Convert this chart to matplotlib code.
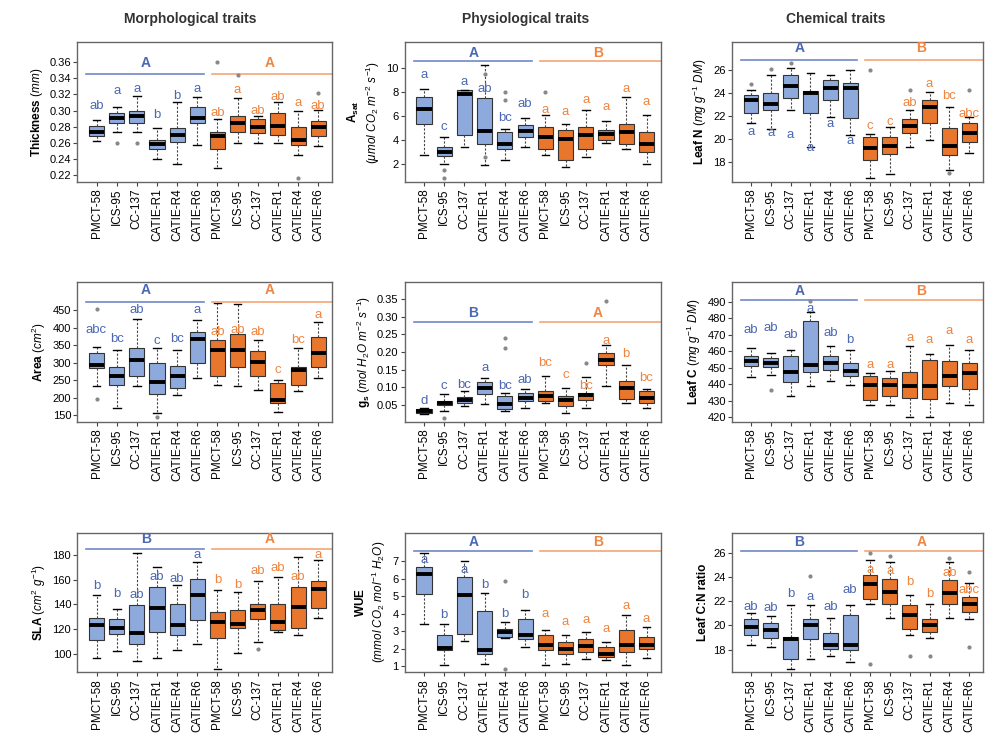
import matplotlib
matplotlib.use("Agg")
import matplotlib.pyplot as plt
import numpy as np

plt.rcParams["font.family"] = ["Liberation Sans", "DejaVu Sans"]
plt.rcParams["mathtext.fontset"] = "custom"
plt.rcParams["mathtext.rm"] = "Liberation Sans"
plt.rcParams["mathtext.it"] = "Liberation Sans:italic"
plt.rcParams["mathtext.bf"] = "Liberation Sans:bold"

cultivars = ["PMCT-58", "ICS-95", "CC-137", "CATIE-R1", "CATIE-R4", "CATIE-R6"]
tick_labels = cultivars + cultivars

# box stats per cultivar: (whisker low, q1, median, q3, whisker high)
thickness_stats = [
    (0.262, 0.268, 0.274, 0.2805, 0.288), (0.273, 0.284, 0.291, 0.297, 0.304),
    (0.273, 0.284, 0.293, 0.299, 0.318), (0.240, 0.2525, 0.259, 0.264, 0.278),
    (0.234, 0.261, 0.270, 0.279, 0.310), (0.258, 0.285, 0.291, 0.304, 0.317),
    (0.229, 0.252, 0.268, 0.274, 0.289), (0.260, 0.274, 0.284, 0.293, 0.316),
    (0.260, 0.272, 0.280, 0.289, 0.293), (0.260, 0.270, 0.281, 0.297, 0.310),
    (0.245, 0.258, 0.264, 0.280, 0.299), (0.256, 0.268, 0.280, 0.287, 0.301),
]
thickness_letters = ["ab", "a", "a", "b", "b", "a", "ab", "a", "ab", "ab", "a", "ab"]
thickness_letter_y = [0.306, 0.324, 0.326, 0.294, 0.318, 0.327, 0.297, 0.325, 0.300, 0.317, 0.309, 0.305]
thickness_outliers = [(2, 0.260), (3, 0.260), (7, 0.360), (8, 0.344), (11, 0.217), (12, 0.322)]
thickness_groups = ["A", "A"]
thickness_group_y = (0.3456, 0.359)

asat_stats = [
    (2.76, 5.29, 6.52, 7.58, 8.2), (2.0, 2.62, 2.98, 3.40, 4.23),
    (3.4, 4.37, 7.8, 8.15, 8.15), (1.87, 3.68, 4.73, 7.44, 10.2),
    (2.34, 3.2, 3.62, 4.65, 4.9), (3.4, 4.23, 4.7, 5.2, 5.77),
    (2.7, 3.26, 4.23, 5.07, 6.04), (1.73, 2.28, 4.1, 4.79, 5.35),
    (2.56, 3.26, 4.37, 5.07, 6.46), (3.73, 4.01, 4.51, 4.85, 5.6),
    (3.26, 3.68, 4.65, 5.35, 7.58), (2.0, 2.98, 3.62, 4.65, 6.04),
]
asat_letters = ["a", "c", "a", "ab", "bc", "ab", "a", "a", "a", "a", "a", "a"]
asat_letter_y = [9.4, 5.07, 8.8, 8.2, 5.77, 7.0, 6.46, 6.3, 7.3, 6.7, 8.19, 7.16]
asat_outliers = [(2, 1.5), (2, 0.8), (4, 9.5), (4, 2.6), (5, 8.0), (5, 7.3), (7, 8.0)]
asat_groups = ["A", "B"]
asat_group_y = (10.56, 11.2)

leafn_stats = [
    (21.4, 22.22, 23.38, 23.82, 24.26), (20.9, 22.51, 23.0, 23.97, 25.56),
    (22.5, 23.53, 24.6, 25.56, 26.15), (19.3, 22.22, 24.0, 24.2, 25.7),
    (21.9, 23.38, 24.4, 25.13, 25.6), (20.3, 21.78, 24.4, 24.84, 26.0),
    (16.55, 18.15, 19.17, 20.19, 20.4), (16.9, 18.67, 19.37, 20.19, 21.0),
    (19.3, 20.48, 21.1, 21.73, 22.5), (19.9, 21.4, 22.74, 23.38, 24.1),
    (17.3, 18.59, 19.4, 20.91, 22.8), (18.73, 19.75, 20.48, 21.35, 21.93),
]
leafn_letters = ["a", "a", "a", "a", "a", "a", "c", "c", "ab", "a", "bc", "abc"]
leafn_letter_y = [20.6, 20.5, 20.3, 19.2, 21.3, 19.8, 21.1, 21.5, 23.1, 24.8, 23.7, 22.2]
leafn_outliers = [(1, 24.8), (2, 26.1), (3, 26.6), (7, 26.0), (9, 24.3), (11, 17.0), (12, 24.3)]
leafn_groups = ["A", "B"]
leafn_group_y = (26.87, 27.9)

area_stats = [
    (232, 284, 292, 327, 346), (171, 237, 261, 289, 336),
    (232, 261, 308, 341, 426), (156, 211, 246, 298, 341),
    (207, 227, 262, 291, 336), (256, 298, 367, 388, 422),
    (237, 262, 336, 365, 471), (232, 289, 336, 382, 469),
    (223, 261, 303, 332, 365), (159, 185, 194, 242, 250),
    (218, 237, 280, 289, 341), (256, 289, 327, 374, 417),
]
area_letters = ["abc", "bc", "ab", "c", "bc", "a", "ab", "ab", "ab", "c", "bc", "a"]
area_letter_y = [393, 367, 450, 363, 367, 452, 388, 393, 388, 280, 365, 436]
area_outliers = [(1, 196), (1, 455), (4, 145)]
area_groups = ["A", "A"]
area_group_y = (474, 509)

gs_stats = [
    (0.024, 0.0265, 0.033, 0.0397, 0.042), (0.033, 0.050, 0.055, 0.061, 0.080),
    (0.047, 0.055, 0.064, 0.073, 0.089), (0.052, 0.082, 0.099, 0.115, 0.127),
    (0.033, 0.040, 0.052, 0.075, 0.085), (0.043, 0.061, 0.071, 0.085, 0.094),
    (0.057, 0.061, 0.075, 0.089, 0.131), (0.028, 0.047, 0.064, 0.075, 0.099),
    (0.043, 0.064, 0.078, 0.083, 0.128), (0.103, 0.164, 0.178, 0.197, 0.220),
    (0.055, 0.066, 0.099, 0.117, 0.164), (0.043, 0.055, 0.071, 0.089, 0.094),
]
gs_letters = ["d", "c", "bc", "a", "bc", "ab", "bc", "c", "bc", "a", "b", "bc"]
gs_letter_y = [0.061, 0.103, 0.108, 0.155, 0.103, 0.122, 0.169, 0.136, 0.103, 0.230, 0.193, 0.127]
gs_outliers = [(2, 0.014), (5, 0.211), (5, 0.239), (9, 0.169), (10, 0.343)]
gs_groups = ["B", "A"]
gs_group_y = (0.286, 0.31)

leafc_stats = [
    (444.3, 451.2, 453.8, 456.8, 461.8), (445.7, 450.4, 452.8, 455.8, 458.8),
    (433.0, 441.3, 447.3, 457.2, 460.8), (438.7, 447.1, 451.8, 478.5, 484.0),
    (441.7, 448.8, 452.8, 457.2, 462.8), (439.7, 444.7, 447.7, 452.8, 460.4),
    (427.6, 430.6, 439.3, 444.7, 447.0), (427.6, 433.0, 439.3, 443.7, 447.7),
    (420.0, 431.6, 438.7, 447.1, 463.2), (420.0, 431.0, 439.1, 454.8, 458.4),
    (428.6, 439.1, 444.7, 453.8, 463.8), (427.6, 437.1, 446.7, 452.8, 460.8),
]
leafc_letters = ["ab", "ab", "ab", "a", "ab", "b", "a", "a", "a", "a", "a", "a"]
leafc_letter_y = [472.9, 473.9, 469.9, 485.5, 470.9, 466.9, 451.8, 451.8, 467.9, 467.0, 471.9, 467.0]
leafc_outliers = [(2, 436.3), (4, 490.5)]
leafc_groups = ["A", "B"]
leafc_group_y = (491, 496.5)

sla_stats = [
    (96.5, 110.8, 123.6, 129.0, 147.5), (101.9, 116.3, 120.9, 127.9, 136.6),
    (93.8, 108.1, 117.1, 139.3, 182.0), (96.5, 117.6, 137.1, 154.2, 170.5),
    (102.7, 114.9, 123.0, 140.7, 156.0), (108.1, 127.1, 148.0, 161.0, 174.6),
    (87.8, 112.7, 125.8, 133.9, 152.0), (100.8, 120.9, 124.4, 135.3, 150.2),
    (109.5, 127.9, 135.3, 140.7, 158.8), (117.6, 119.0, 125.8, 140.7, 162.4),
    (114.9, 120.9, 138.0, 154.2, 178.6), (129.0, 137.1, 152.3, 158.8, 176.0),
]
sla_letters = ["b", "b", "ab", "ab", "ab", "a", "b", "b", "ab", "ab", "ab", "a"]
sla_letter_y = [155.0, 148.8, 147.5, 162.4, 161.0, 180.0, 159.7, 155.6, 167.0, 169.7, 162.4, 180.5]
sla_outliers = [(9, 104.0)]
sla_groups = ["B", "A"]
sla_group_y = (185.4, 193)

wue_stats = [
    (3.44, 5.15, 6.26, 6.68, 7.5), (1.06, 1.91, 2.05, 2.77, 3.44),
    (2.43, 2.87, 5.1, 6.1, 7.0), (1.15, 1.72, 1.91, 4.14, 5.2),
    (2.6, 2.68, 2.96, 3.15, 3.53), (2.1, 2.58, 2.81, 3.69, 4.2),
    (1.1, 1.91, 2.24, 2.77, 3.06), (1.15, 1.72, 1.97, 2.39, 2.77),
    (1.44, 1.82, 2.16, 2.58, 2.96), (1.34, 1.53, 1.72, 2.1, 2.39),
    (1.1, 1.82, 2.2, 3.06, 3.91), (1.48, 2.0, 2.2, 2.68, 3.25),
]
wue_letters = ["a", "b", "a", "b", "b", "b", "a", "a", "a", "a", "a", "a"]
wue_letter_y = [7.06, 3.91, 6.49, 5.63, 4.0, 5.1, 4.0, 3.53, 3.63, 3.15, 4.43, 3.72]
wue_outliers = [(5, 5.9), (5, 0.87)]
wue_groups = ["A", "B"]
wue_group_y = (7.57, 8.1)

cn_stats = [
    (18.36, 19.19, 19.87, 20.56, 21.0), (18.2, 18.97, 19.6, 20.2, 20.8),
    (16.44, 17.26, 18.86, 19.05, 21.7), (17.26, 18.86, 20.0, 20.56, 21.66),
    (17.5, 18.09, 18.42, 19.38, 20.6), (17.0, 17.95, 18.36, 20.9, 21.7),
    (21.8, 22.21, 23.44, 24.13, 25.37), (20.6, 21.8, 22.76, 23.86, 25.23),
    (19.19, 19.74, 20.9, 21.66, 22.5), (18.97, 19.46, 20.0, 20.56, 21.8),
    (20.6, 21.8, 22.7, 23.78, 25.2), (20.56, 21.1, 21.8, 22.35, 23.5),
]
cn_letters = ["ab", "ab", "b", "a", "ab", "ab", "a", "a", "b", "b", "ab", "abc"]
cn_letter_y = [21.52, 21.4, 22.6, 22.35, 21.52, 22.95, 24.6, 24.5, 23.58, 22.6, 24.35, 22.95]
cn_outliers = [(4, 24.1), (7, 16.85), (7, 26.0), (8, 25.7), (9, 17.5), (10, 17.5),
               (11, 25.6), (12, 24.4), (12, 18.2)]
cn_groups = ["B", "A"]
cn_group_y = (26.1, 26.9)

BLUE_FILL = "#8eaadc"
ORANGE_FILL = "#e8762c"
BLUE_TXT = "#4c68b4"
ORANGE_TXT = "#ef8540"
BLUE_LINE = "#6f88c6"
ORANGE_LINE = "#f3a675"

fig = plt.figure(figsize=(9.92, 7.45), dpi=100)

col_left = [0.078, 0.408, 0.738]
col_w = [0.257, 0.258, 0.253]
row_bottom = [0.756, 0.434, 0.098]
row_h = 0.187


def draw_panel(row, col, stats, letters, letter_y, outliers, groups, group_y,
               ylabel, yticks, ylim, fmt):
    ax = fig.add_axes([col_left[col], row_bottom[row], col_w[col], row_h])
    pos = np.arange(1, 13)
    bstats = [dict(whislo=s[0], q1=s[1], med=s[2], q3=s[3], whishi=s[4], fliers=[])
              for s in stats]
    art = ax.bxp(bstats, positions=pos, widths=0.75, patch_artist=True, showfliers=False,
                 capwidths=0.38,
                 boxprops=dict(edgecolor="#333333", linewidth=0.8),
                 medianprops=dict(color="black", linewidth=2.8, solid_capstyle="butt"),
                 whiskerprops=dict(color="#444444", linewidth=0.8, linestyle=(0, (2, 1.5))),
                 capprops=dict(color="black", linewidth=1.0))
    for i, box in enumerate(art["boxes"]):
        box.set_facecolor(BLUE_FILL if i < 6 else ORANGE_FILL)

    ox = [o[0] for o in outliers]
    oy = [o[1] for o in outliers]
    ax.scatter(ox, oy, s=4, color="#888888", zorder=3)

    for i, (lab, ly) in enumerate(zip(letters, letter_y)):
        ax.text(pos[i], ly, lab, ha="center", va="center", fontsize=9.5,
                color=BLUE_TXT if i < 6 else ORANGE_TXT)

    ax.plot([0.5, 6.35], [group_y[0]] * 2, color=BLUE_LINE, lw=1.2)
    ax.plot([6.75, 12.7], [group_y[0]] * 2, color=ORANGE_LINE, lw=1.2)
    ax.text(3.45, group_y[1], groups[0], ha="center", va="center", fontsize=10,
            fontweight="bold", color=BLUE_TXT)
    ax.text(9.6, group_y[1], groups[1], ha="center", va="center", fontsize=10,
            fontweight="bold", color=ORANGE_TXT)

    ax.set_xlim(0.05, 12.7)
    ax.set_ylim(*ylim)
    ax.set_yticks(yticks)
    ax.set_yticklabels([fmt.format(t) for t in yticks])
    ax.set_xticks(pos)
    ax.set_xticklabels(tick_labels, rotation=90, fontsize=8.5)
    ax.tick_params(axis="y", labelsize=8, length=3, color="#444444", pad=1.5)
    ax.tick_params(axis="x", length=3, color="#444444", pad=2)
    for sp in ax.spines.values():
        sp.set_color("#666666")
        sp.set_linewidth(1.0)
    ax.set_ylabel(ylabel, fontsize=8.5, labelpad=3)
    return ax


draw_panel(0, 0, thickness_stats, thickness_letters, thickness_letter_y, thickness_outliers,
           thickness_groups, thickness_group_y, r"$\bf{Thickness}$ $\it{(mm)}$",
           np.arange(0.22, 0.365, 0.02), (0.212, 0.384), "{:.2f}")
draw_panel(0, 1, asat_stats, asat_letters, asat_letter_y, asat_outliers,
           asat_groups, asat_group_y,
           r"$\bf{A_{sat}}$" + "\n" + r"$\it{(\mu mol\ CO_2\ m^{-2}\ s^{-1})}$",
           [2, 4, 6, 8, 10], (0.5, 12.1), "{:d}")
draw_panel(0, 2, leafn_stats, leafn_letters, leafn_letter_y, leafn_outliers,
           leafn_groups, leafn_group_y, r"$\bf{Leaf\ N}$ $\it{(mg\ g^{-1}\ DM)}$",
           [18, 20, 22, 24, 26], (16.26, 28.4), "{:d}")
draw_panel(1, 0, area_stats, area_letters, area_letter_y, area_outliers,
           area_groups, area_group_y, r"$\bf{Area}$ $\it{(cm^2)}$",
           [150, 200, 250, 300, 350, 400, 450], (131, 530), "{:d}")
draw_panel(1, 1, gs_stats, gs_letters, gs_letter_y, gs_outliers,
           gs_groups, gs_group_y, r"$\bf{g_s}$ $\it{(mol\ H_2O\ m^{-2}\ s^{-1})}$",
           np.arange(0.05, 0.36, 0.05), (0.003, 0.397), "{:.2f}")
draw_panel(1, 2, leafc_stats, leafc_letters, leafc_letter_y, leafc_outliers,
           leafc_groups, leafc_group_y, r"$\bf{Leaf\ C}$ $\it{(mg\ g^{-1}\ DM)}$",
           [420, 430, 440, 450, 460, 470, 480, 490], (417.2, 501.7), "{:d}")
draw_panel(2, 0, sla_stats, sla_letters, sla_letter_y, sla_outliers,
           sla_groups, sla_group_y, r"$\bf{SLA}$ $\it{(cm^2\ g^{-1})}$",
           [100, 120, 140, 160, 180], (85.1, 198.4), "{:d}")
draw_panel(2, 1, wue_stats, wue_letters, wue_letter_y, wue_outliers,
           wue_groups, wue_group_y,
           r"$\bf{WUE}$" + "\n" + r"$\it{(mmol\ CO_2\ mol^{-1}\ H_2O)}$",
           [1, 2, 3, 4, 5, 6, 7], (0.68, 8.64), "{:d}")
ax_cn = draw_panel(2, 2, cn_stats, cn_letters, cn_letter_y, cn_outliers,
                   cn_groups, cn_group_y, "Leaf C:N ratio",
                   [18, 20, 22, 24, 26], (16.16, 27.65), "{:d}")
ax_cn.yaxis.label.set_fontweight("bold")

fig.text(0.192, 0.975, "Morphological traits", ha="center", va="center",
         fontsize=10, fontweight="bold", color="#333333")
fig.text(0.53, 0.975, "Physiological traits", ha="center", va="center",
         fontsize=10, fontweight="bold", color="#333333")
fig.text(0.842, 0.975, "Chemical traits", ha="center", va="center",
         fontsize=10, fontweight="bold", color="#333333")

fig.savefig("out.png", dpi=100)
